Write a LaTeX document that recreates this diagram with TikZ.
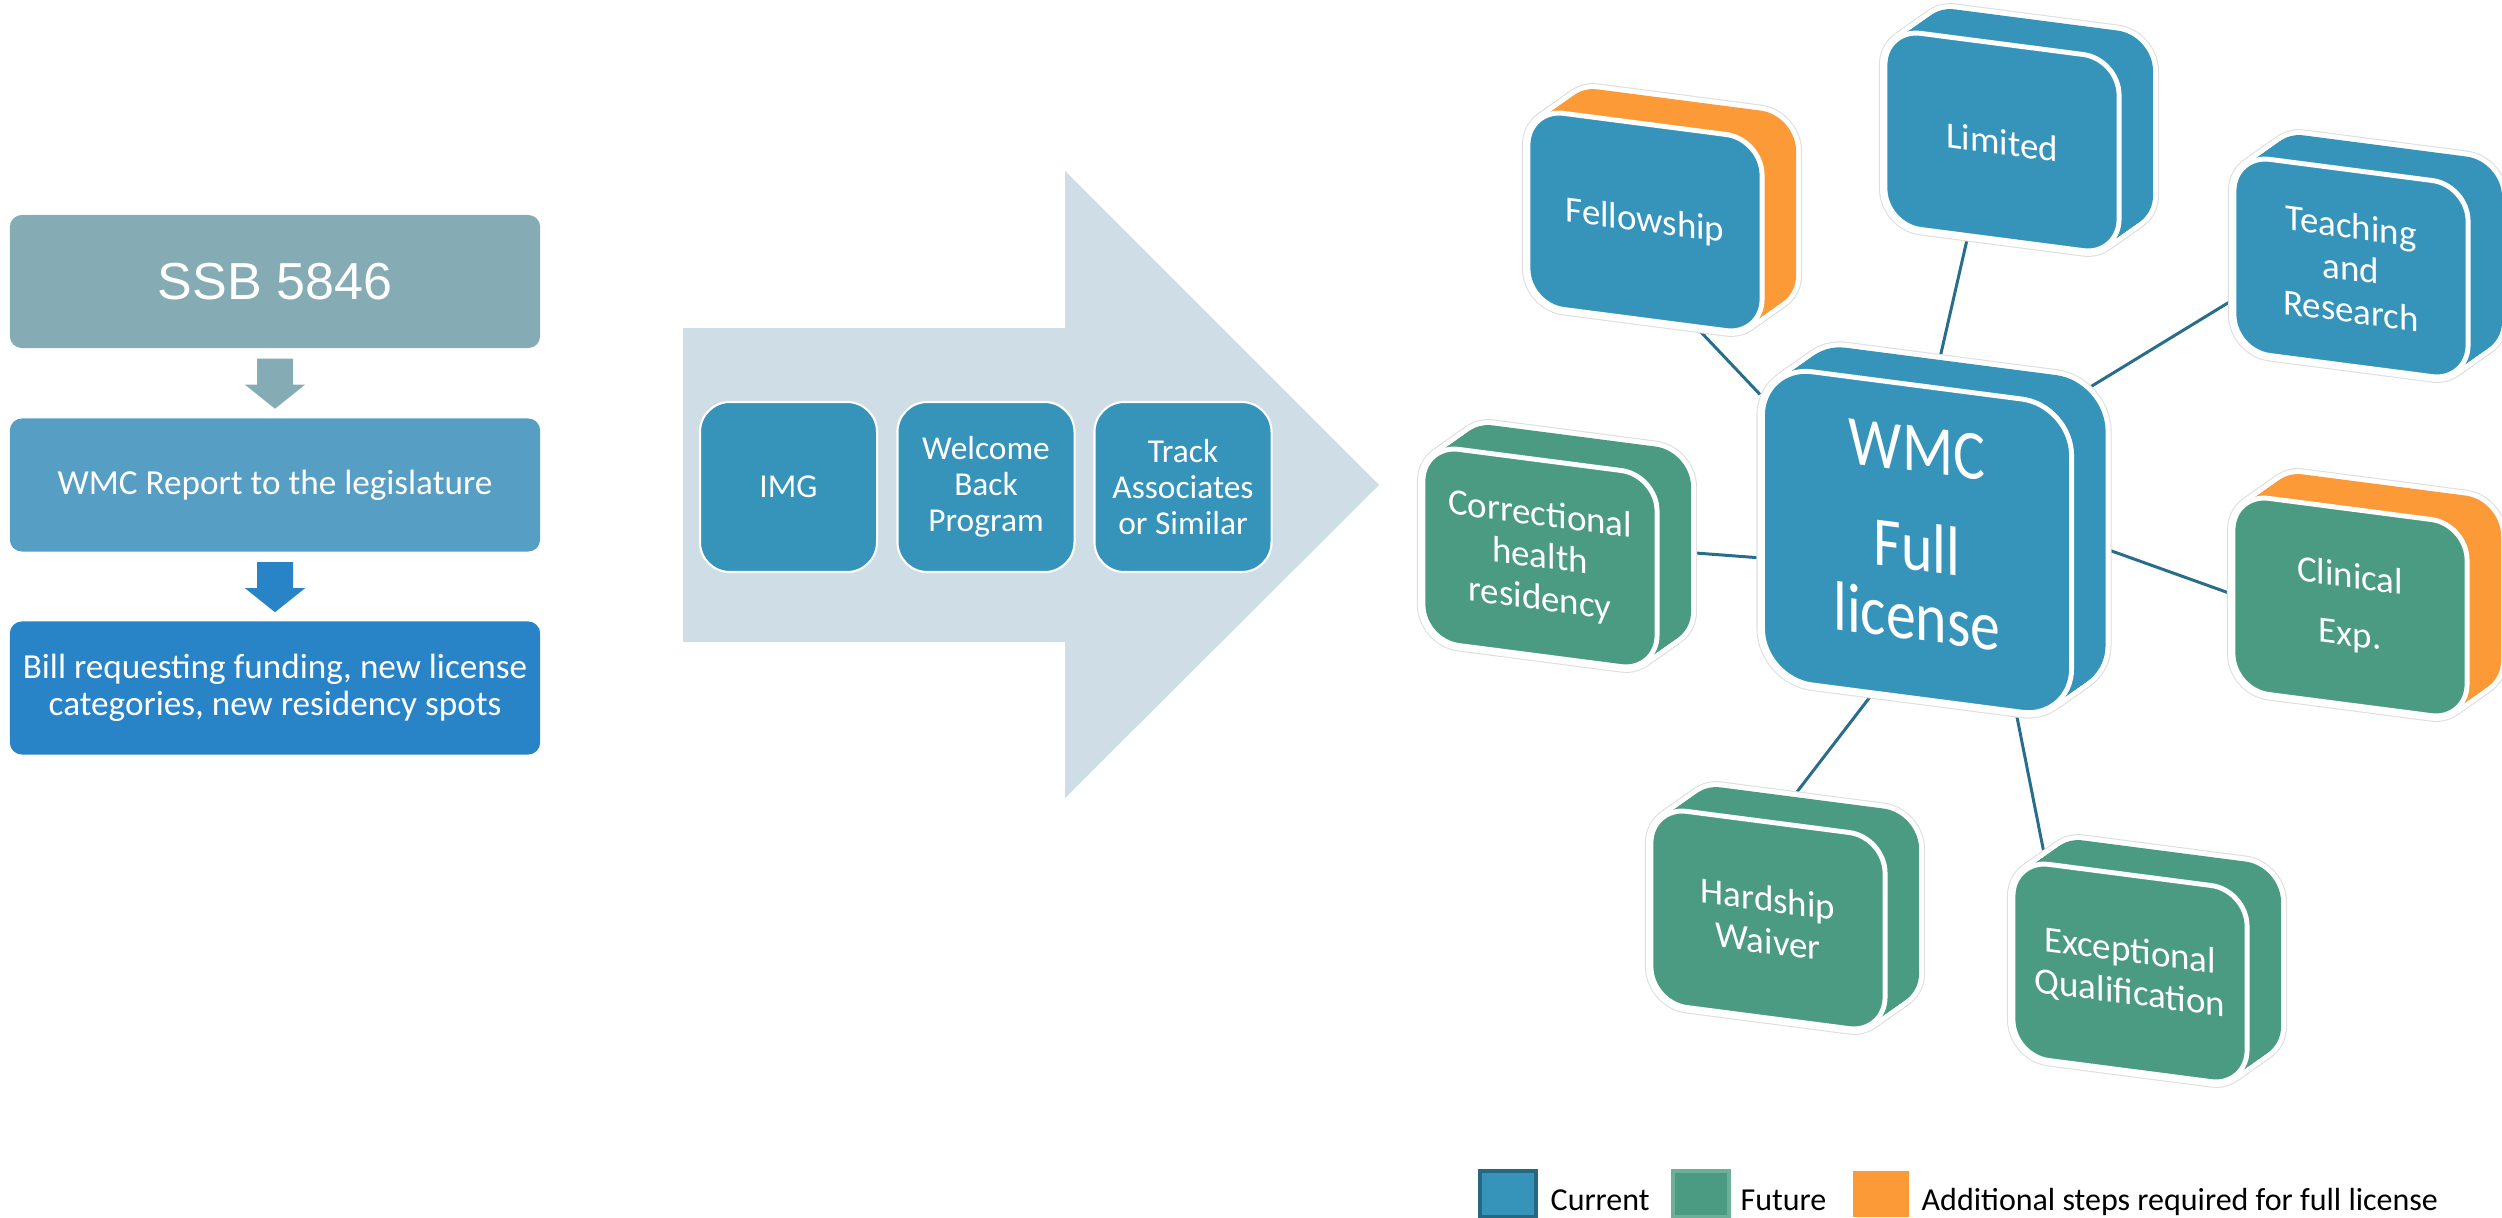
\documentclass[tikz,border=0pt]{standalone}
\usepackage{fontspec}
\setmainfont{Carlito}
\newfontfamily\arialfont{Liberation Sans}
\usetikzlibrary{backgrounds}

\definecolor{ssbgrey}{RGB}{133,172,181}
\definecolor{reportblue}{RGB}{86,158,196}
\definecolor{billblue}{RGB}{41,131,199}
\definecolor{arrowgrey}{RGB}{207,221,231}
\definecolor{current}{RGB}{54,148,187}
\definecolor{future}{RGB}{74,155,129}
\definecolor{extra}{RGB}{253,154,56}
\definecolor{linkblue}{RGB}{40,110,140}

% slanted 3d tile: name, x, y, width, height, face, side, options, text
\newcommand{\drawtile}[9]{%
  \begin{scope}[shift={(#2,#3)}, yslant=-0.13,
      every node/.append style={tilebox, minimum width=#4, minimum height=#5, #8}]
    \foreach \s in {0,...,20}
      \node[draw=black!13, line width=3.4pt] at (1.7*\s,-1.42*\s) {};
    \foreach \s in {0,...,20}
      \node[draw=white, line width=2.8pt] at (1.7*\s,-1.42*\s) {};
    \foreach \s in {1,...,20}
      \node[fill=#7] at (1.7*\s,-1.42*\s) {};
    \node[fill=#6, draw=white, line width=1.4pt] (#1) at (0,0) {#9};
  \end{scope}}

\begin{document}
\begin{tikzpicture}[x=0.01cm, y=-0.01cm,
    stepbox/.style={rectangle, rounded corners=0.12cm, minimum width=5.3cm,
      minimum height=1.33cm, text=white, align=center,
      font=\fontsize{10}{10.6}\selectfont},
    progbox/.style={rectangle, rounded corners=0.3cm, draw=white, line width=0.6pt,
      fill=current, minimum width=1.77cm, minimum height=1.7cm, text=white,
      align=center, font=\fontsize{9.5}{10.2}\selectfont},
    tilebox/.style={rectangle, rounded corners=0.36cm, transform shape, inner sep=0pt,
      text=white, align=center, font=\fontsize{10.5}{12}\selectfont},
    link/.style={linkblue, line width=0.85pt},
    legbox/.style={rectangle, minimum width=0.56cm, minimum height=0.46cm, inner sep=0pt},
    legtext/.style={anchor=base west, inner sep=0pt, font=\fontsize{9.1}{10}\selectfont}]

\useasboundingbox (0,0) rectangle (2502,1218);

% Left column
\node[stepbox, fill=ssbgrey, font=\arialfont\fontsize{14.8}{16}\selectfont] (ssb) at (275,281.5) {SSB 5846};
\node[stepbox, fill=reportblue] (rep) at (275,485) {WMC Report to the legislature};
\node[stepbox, fill=billblue] (bill) at (275,688) {Bill requesting funding, new license\\categories, new residency spots};
\foreach \a/\c in {ssb/ssbgrey, rep/billblue}
  \fill[\c, shift={(\a.south)}] (-18,10) -- (18,10) -- (18,36) -- (30,36) -- (0,60) -- (-30,36) -- (-18,36) -- cycle;

% Big arrow with programs
\fill[arrowgrey] (683,328) -- (1065,328) -- (1065,171) -- (1379,485) -- (1065,798) -- (1065,642) -- (683,642) -- cycle;
\node[progbox] (img) at (788.5,487) {IMG};
\node[progbox] (wel) at (986,487) {Welcome\\Back\\Program};
\node[progbox] (trk) at (1183,487) {Track\\Associates\\or Similar};

% Licence tiles
\drawtile{fel}{1645}{222}{2.34cm}{1.96cm}{current}{extra}{}{Fellowship}
\drawtile{lim}{2002}{142}{2.34cm}{1.96cm}{current}{current}{}{Limited}
\drawtile{teach}{2351}{268}{2.34cm}{1.96cm}{current}{current}{}{Teaching\\and\\Research}
\drawtile{corr}{1540}{558}{2.34cm}{1.96cm}{future}{future}{}{Correctional\\health\\residency}
\drawtile{clin}{2350}{607}{2.34cm}{1.96cm}{future}{extra}{}{Clinical\\[4.5pt]Exp.}
\drawtile{hard}{1768}{920}{2.34cm}{1.96cm}{future}{future}{}{Hardship\\Waiver}
\drawtile{exc}{2130}{973}{2.34cm}{1.96cm}{future}{future}{}{Exceptional\\Qualification}
\drawtile{wmc}{1917}{542}{3.09cm}{3.13cm}{current}{current}{rounded corners=0.5cm, font=\fontsize{17}{17}\selectfont}%
  {\scalebox{1}[1.17]{\begin{tabular}{@{}c@{}}WMC\\[6.9pt]Full\\license\end{tabular}}}

% Connectors
\begin{pgfonlayer}{background}
  \foreach \a/\b in {fel.298/wmc.141, lim.251/wmc.84, teach.202/wmc.47, corr.11/wmc.193,
      clin.181/wmc.9, hard.86/wmc.254, exc.130/wmc.302}
    \draw[link] (\a) -- (\b);
\end{pgfonlayer}

% Legend
\node[legbox, fill=current, draw=current!70!black, line width=1pt] (lcur) at (1508,1194) {};
\node[legtext] (tcur) at (1550,1210) {Current};
\node[legbox, fill=future, draw=future!80!white, line width=1pt] (lfut) at (1701,1194) {};
\node[legtext] (tfut) at (1740,1210) {Future};
\node[legbox, fill=extra] (lext) at (1881,1194) {};
\node[legtext] (text) at (1921,1210) {Additional steps required for full license};
\end{tikzpicture}
\end{document}
